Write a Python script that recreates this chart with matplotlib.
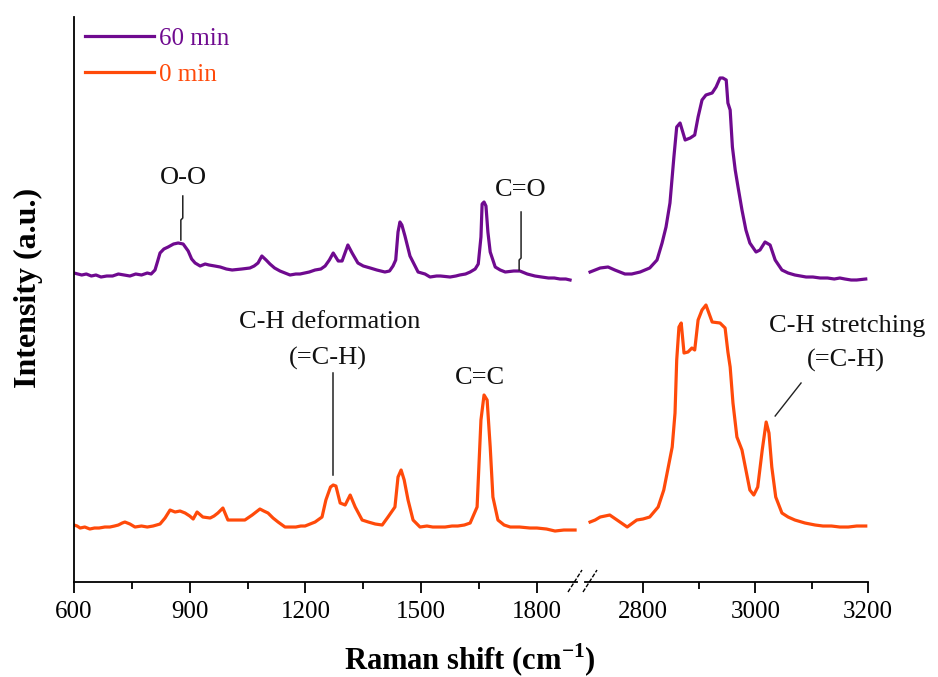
import numpy as np
import matplotlib
matplotlib.use("Agg")
import matplotlib.pyplot as plt
from matplotlib.lines import Line2D

plt.rcParams["font.family"] = ["Liberation Serif", "DejaVu Serif"]
plt.rcParams["mathtext.fontset"] = "custom"
plt.rcParams["mathtext.rm"] = "Liberation Serif"
plt.rcParams["mathtext.bf"] = "Liberation Serif:bold"

# Raman spectra, 60 min sample (purple)
wn_60 = [600, 610, 620, 632, 645, 657, 670, 685, 700, 715, 730, 745, 760, 775, 790, 800, 810, 817,
         823, 833, 844, 858, 870, 883, 896, 905, 914, 927, 940, 950, 965, 979, 995, 1010, 1035, 1056,
         1067, 1077, 1087, 1098, 1108, 1120, 1134, 1147, 1160, 1175, 1186, 1210, 1225, 1240, 1251,
         1262, 1272, 1285, 1295, 1310, 1321, 1336, 1350, 1368, 1385, 1406, 1418, 1427, 1434, 1440,
         1445, 1450, 1458, 1471, 1492, 1510, 1523, 1540, 1550, 1575, 1590, 1600, 1615, 1627, 1640,
         1648, 1655, 1658, 1663, 1668, 1673, 1679, 1692, 1705, 1718, 1740, 1756, 1775, 1795, 1812,
         1830, 1845, 1860, 1875, 1886,
         2706, 2715, 2724, 2738, 2750, 2768, 2780, 2795, 2812, 2825, 2834, 2841, 2848, 2855, 2860,
         2866, 2875, 2884, 2892, 2898, 2905, 2912, 2923, 2930, 2937, 2942, 2948, 2951, 2955, 2959,
         2964, 2969, 2976, 2983, 2990, 3001, 3008, 3017, 3026, 3035, 3047, 3058, 3070, 3080, 3090,
         3102, 3115, 3128, 3140, 3150, 3159, 3170, 3180, 3196]
int_60 = [309, 308, 307, 308, 306, 307, 305, 306, 306, 308, 307, 306, 308, 307, 309, 308, 312, 321,
          329, 333, 335, 338, 339, 338, 331, 323, 319, 316, 318, 317, 316, 315, 313, 312, 313, 314,
          316, 319, 326, 322, 318, 314, 311, 309, 307, 308, 308, 310, 312, 313, 316,
          322, 329, 321, 321, 337, 329, 319, 316, 314, 312, 310, 311, 316, 322, 350,
          360, 357, 346, 326, 310, 308, 305, 306, 306, 305, 306, 307, 308, 310, 313,
          318, 345, 378, 380, 376, 350, 330, 315, 312, 310, 311, 311, 308, 306, 305,
          304, 304, 303, 303, 302,
          310, 312, 314, 315, 312, 308, 308, 310, 314, 322, 339, 355, 379, 425, 455,
          459, 442, 444, 447, 465, 482, 487, 489, 495, 504, 504, 502, 479, 472, 435,
          412, 395, 372, 352, 339, 330, 332, 340, 337, 322, 312, 309, 307, 306, 305,
          305, 304, 304, 303, 304, 303, 302, 302, 303]

# Raman spectra, 0 min sample (orange)
wn_0 = [600, 608, 616, 628, 641, 653, 665, 680, 693, 705, 715, 725, 732, 745, 758, 775, 790, 805,
        823, 836, 849, 862, 875, 888, 900, 909, 919, 934, 953, 963, 973, 986, 999, 1020, 1043, 1062,
        1082, 1092, 1103, 1116, 1129, 1147, 1160, 1175, 1188, 1199, 1212, 1225, 1243, 1253, 1265,
        1272, 1279, 1290, 1303, 1316, 1329, 1347, 1363, 1381, 1399, 1414, 1432, 1440, 1448, 1456,
        1466, 1479, 1497, 1515, 1530, 1545, 1562, 1580, 1595, 1612, 1627, 1645, 1655, 1663, 1671,
        1679, 1686, 1699, 1715, 1731, 1755, 1782, 1800, 1825, 1847, 1870, 1899,
        2706, 2715, 2724, 2741, 2754, 2772, 2789, 2800, 2812, 2827, 2837, 2844, 2852, 2857, 2860,
        2864, 2868, 2873, 2880, 2887, 2892, 2898, 2905, 2912, 2923, 2937, 2946, 2951, 2955, 2960,
        2967, 2976, 2983, 2990, 2997, 3004, 3012, 3019, 3024, 3029, 3036, 3047, 3058, 3070, 3088,
        3106, 3120, 3135, 3150, 3165, 3180, 3196]
int_0 = [57, 56, 54, 55, 53, 54, 54, 55, 55, 56, 57, 59, 60, 58, 55, 56, 55, 56,
         58, 64, 72, 70, 71, 69, 66, 63, 70, 65, 64, 66, 69, 74, 62, 62, 62, 67,
         73, 71, 69, 64, 60, 55, 55, 55, 56, 56, 58, 60, 65, 82, 95,
         97, 96, 79, 77, 87, 75, 62, 60, 58, 57, 65, 75, 105, 112, 102,
         82, 62, 55, 56, 55, 55, 55, 56, 56, 57, 59, 75, 162, 187, 182,
         135, 85, 62, 57, 55, 55, 54, 54, 53, 51, 52, 52,
         60, 62, 65, 67, 62, 55, 62, 63, 65, 75, 92, 112, 135, 169, 222,
         255, 259, 229, 230, 234, 232, 262, 272, 277, 260, 259, 254, 230, 215, 179,
         145, 132, 112, 92, 87, 95, 132, 160, 149, 115, 85, 69, 65, 62, 59,
         57, 56, 56, 55, 55, 56, 56]

wn_60 = np.array(wn_60)
int_60 = np.array(int_60)
wn_0 = np.array(wn_0)
int_0 = np.array(int_0)

purple = "#6f0a8f"
orange = "#ff4a0a"

fig = plt.figure(figsize=(9.38, 6.77), dpi=100)
ax1 = fig.add_axes([74 / 938, 0.1403, 503 / 938, 0.8346])
ax2 = fig.add_axes([585 / 938, 0.1403, 283 / 938, 0.8346])

for ax, sel60, sel0 in [(ax1, wn_60 < 2000, wn_0 < 2000), (ax2, wn_60 > 2000, wn_0 > 2000)]:
    ax.plot(wn_60[sel60], int_60[sel60], color=purple, lw=2.3, label="60 min")
    ax.plot(wn_0[sel0], int_0[sel0], color=orange, lw=2.3, label="0 min")
    ax.set_ylim(0, 565)
    ax.spines["top"].set_visible(False)
    ax.spines["right"].set_visible(False)
    ax.spines["bottom"].set_linewidth(1.3)
    ax.set_yticks([])
    ax.tick_params(axis="x", which="major", direction="out", length=8, width=1.3,
                   labelsize=18, pad=6)
    ax.tick_params(axis="x", which="minor", direction="out", length=5, width=1.3)
    ax.set_facecolor("none")

ax1.set_xlim(600, 1904)
ax1.set_xticks([600, 900, 1200, 1500, 1800])
ax1.set_xticks([750, 1050, 1350, 1650], minor=True)
ax1.spines["left"].set_linewidth(1.3)

ax2.set_xlim(2697, 3200)
ax2.set_xticks([2800, 3000, 3200])
ax2.set_xticks([2900, 3100], minor=True)
ax2.spines["left"].set_visible(False)

# axis break marks
for x0 in (568, 583):
    fig.add_artist(Line2D([x0 / 938, (x0 + 14) / 938], [(677 - 592) / 677, (677 - 570) / 677],
                          transform=fig.transFigure, color="black", lw=1.0,
                          linestyle=(0, (3, 1.2))))

leg = ax1.legend(loc="upper left", bbox_to_anchor=(0.022, 0.982), frameon=False, fontsize=18,
                 handlelength=2.75, handletextpad=0.2, labelspacing=0.55, borderaxespad=0,
                 borderpad=0, labelcolor="linecolor")

# peak assignments
txt = dict(fontsize=19, ha="center", va="center", color="#111111")
ax1.text(883, 404, "O-O", **txt)
ax1.plot([882, 882, 877, 877], [386, 364, 362, 342], color="#222222", lw=1.1)
ax1.text(1759, 392, "C=O", **txt)
ax1.plot([1759, 1759, 1754, 1754], [370, 324, 322, 312], color="#222222", lw=1.1)
ax1.text(1264, 260, "C-H deformation", **txt)
ax1.text(1259, 224, "(=C-H)", **txt)
ax1.plot([1272, 1272], [209, 107], color="#222222", lw=1.1)
ax1.text(1653, 204, "C=C", **txt)
ax2.text(3163, 256, "C-H stretching", clip_on=False, **txt)
ax2.text(3161, 222, "(=C-H)", **txt)
ax2.plot([3081, 3035], [199, 166], color="#222222", lw=1.0)

fig.text(470 / 938, 1 - 660 / 677, r"Raman shift (cm$^{\mathbf{-1}}$)", fontsize=22,
         fontweight="bold", ha="center", va="center")
fig.text(28 / 938, 1 - 288 / 677, "Intensity (a.u.)", fontsize=23, fontweight="bold",
         rotation=90, ha="center", va="center")

fig.savefig("out.png", dpi=100)
